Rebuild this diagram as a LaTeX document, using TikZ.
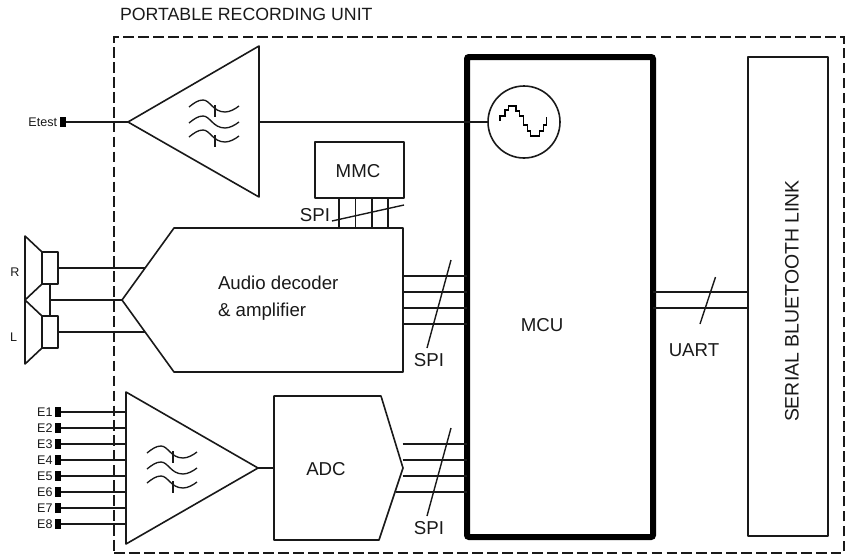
\documentclass[tikz,border=0pt]{standalone}
\usepackage{fontspec}
\setmainfont{Liberation Sans}
\usetikzlibrary{fit}
\tikzset{
  x=0.75pt,y=-0.75pt,
  wire/.style={line width=1.2pt,color=black!90},
  thin wire/.style={line width=1.05pt,color=black!90},
  block/.style={draw=black!90,line width=1.2pt,line join=round,inner sep=0pt,outer sep=0pt},
  pad/.style={fill=black,draw=none,inner sep=0pt,outer sep=0pt,minimum width=4.6pt,minimum height=7pt},
  lab/.style={inner sep=0pt,outer sep=0pt,font=\fontsize{14}{17}\selectfont,color=black!90},
  titlelab/.style={lab,font=\fontsize{13.3}{16}\selectfont},
  btlabst/.style={lab,font=\fontsize{14.6}{17}\selectfont},
  smalllab/.style={lab,font=\fontsize{9.4}{11}\selectfont},
  filterwave/.style={line width=1pt,color=black!90},
}
\newcommand{\filtersym}[2]{%
  \begin{scope}[shift={(#1,#2)}]
    \foreach \dy in {0,16,30}{
      \draw[filterwave] (0,\dy) .. controls (5,\dy-4) and (9,\dy-7) .. (14,\dy-7)
        .. controls (21,\dy-7) and (24,\dy+5) .. (36,\dy+5)
        .. controls (41,\dy+5) and (46,\dy+2) .. (50,\dy-1);
    }
    \draw[filterwave] (26,-2) -- (26,10);
    \draw[filterwave] (26,28) -- (26,40);
  \end{scope}}
\begin{document}
\begin{tikzpicture}
\useasboundingbox (0,0) rectangle (846,557);
% title and outer box
\node[titlelab,anchor=west] (title) at (120,14.5) {PORTABLE RECORDING UNIT};
\node[draw=black!90,line width=1.4pt,dash pattern=on 8pt off 3.2pt,fit={(114,37)(844,553)},inner sep=0pt,outer sep=0pt] (unit) {};
% MCU and Bluetooth
\node[draw=black,line width=4.5pt,rounded corners=1.5pt,fit={(467,57)(653,537)},inner sep=0pt,outer sep=0pt] (mcu) {};
\node[lab] (mculab) at (542,325) {MCU};
\node[block,fit={(748,57)(828,536)}] (bt) {};
\node[btlabst,rotate=90] (btlab) at (792,301) {SERIAL BLUETOOTH LINK};
% Etest channel
\coordinate (t1a) at (128,122); \coordinate (t1b) at (259,46); \coordinate (t1c) at (259,197);
\draw[block] (t1a) -- (t1b) -- (t1c) -- cycle;
\filtersym{189}{107}
\node[pad] (etest) at (63,122) {};
\node[smalllab,anchor=east] (etestlab) at (57,122) {Etest};
\draw[wire] (etest.east) -- (t1a);
\node[block,draw,circle,minimum size=72pt*0.75] (osc) at (524,122) {};
\coordinate (t1out) at (259,122);
\draw[thin wire] (t1out) -- (osc.west);
\draw[line width=1.2pt] (500,120.7) -- ++(0,-4.7) -- ++(5,0) -- ++(0,-6) -- ++(3.3,0) -- ++(0,-4.3) -- ++(7.7,0) -- ++(0,5) -- ++(3.3,0) -- ++(0,5.3) -- ++(4,0) -- ++(0,9) -- ++(4,0) -- ++(0,5.7) -- ++(3.3,0) -- ++(0,5.3) -- ++(8.7,0) -- ++(0,-5.3) -- ++(4,0) -- ++(0,-5.7) -- ++(3.3,0) -- ++(0,-8.3);
% MMC
\node[block,fit={(315,142)(404,198)}] (mmc) {};
\node[lab] (mmclab) at (358,171) {MMC};
% Audio decoder
\coordinate (a1) at (122,300); \coordinate (a2) at (174,228); \coordinate (a3) at (403,228);
\coordinate (a4) at (403,372); \coordinate (a5) at (174,372);
\draw[block] (a1) -- (a2) -- (a3) -- (a4) -- (a5) -- cycle;
\node[lab,align=left,anchor=west] (audiolab) at (218,298) {Audio decoder\\[3.2pt]\& amplifier};
\foreach \x in {339,355.5,372,388}{
  \draw[thin wire] (\x,198) -- (\x,228);
}
\coordinate (s1a) at (332,221); \coordinate (s1b) at (404,205);
\draw[thin wire] (s1a) -- (s1b);
\node[lab] (spi1) at (315,215) {SPI};
\foreach \y in {276,292,308,324}{
  \draw[thin wire] (403,\y) -- (mcu.west |- 0,\y);
}
\coordinate (s2a) at (451,260); \coordinate (s2b) at (427,348);
\draw[thin wire] (s2a) -- (s2b);
\node[lab] (spi2) at (429,360) {SPI};
% speakers
\node[block,fit={(42,252)(58,284)}] (spkR) {};
\node[block,fit={(42,316)(58,348)}] (spkL) {};
\coordinate (c1) at (25,236); \coordinate (c2) at (25,300); \coordinate (c3) at (25,364);
\draw[block] (spkR.north west) -- (c1) -- (c3) -- (spkL.south west);
\draw[block] (spkR.south west) -- (c2) -- (spkL.north west);
\draw[wire] (spkR.south) -- (spkL.north);
\draw[thin wire] (spkR.east) -- (145,268);
\draw[thin wire] (spkL.east) -- (145,332);
\draw[thin wire] (spkR.south |- a1) -- (a1);
\node[smalllab,anchor=center] (Rlab) at (15,272) {R};
\node[smalllab,anchor=center] (Llab) at (13.5,337) {L};
% electrodes channel
\coordinate (t2a) at (126,392); \coordinate (t2b) at (126,544); \coordinate (t2c) at (258,468);
\draw[block] (t2a) -- (t2c) -- (t2b) -- cycle;
\filtersym{147}{453}
\foreach \i/\y in {1/412,2/428,3/444,4/460,5/476,6/492,7/508,8/524}{
  \node[pad] (e\i) at (58,\y) {};
  \node[smalllab,anchor=east] (el\i) at (52.5,\y) {E\i};
  \draw[wire] (e\i.east) -- (126,\y);
}
% ADC
\coordinate (d1) at (274,396); \coordinate (d2) at (381,396); \coordinate (d3) at (403,468);
\coordinate (d4) at (379,540); \coordinate (d5) at (274,540);
\draw[block] (d1) -- (d2) -- (d3) -- (d4) -- (d5) -- cycle;
\draw[thin wire] (t2c) -- (t2c -| d1);
\node[lab] (adclab) at (326,469) {ADC};
\foreach \xs/\y in {402.5/444,402.5/460,402.5/476,396/492}{
  \draw[thin wire] (\xs,\y) -- (mcu.west |- 0,\y);
}
\coordinate (s3a) at (451,428); \coordinate (s3b) at (427,516);
\draw[thin wire] (s3a) -- (s3b);
\node[lab] (spi3) at (429,528) {SPI};
% UART
\foreach \y in {292,308}{
  \draw[thin wire] (mcu.east |- 0,\y) -- (bt.west |- 0,\y);
}
\coordinate (s4a) at (715.5,277); \coordinate (s4b) at (700,324);
\draw[thin wire] (s4a) -- (s4b);
\node[lab] (uart) at (694,350) {UART};
\end{tikzpicture}
\end{document}
